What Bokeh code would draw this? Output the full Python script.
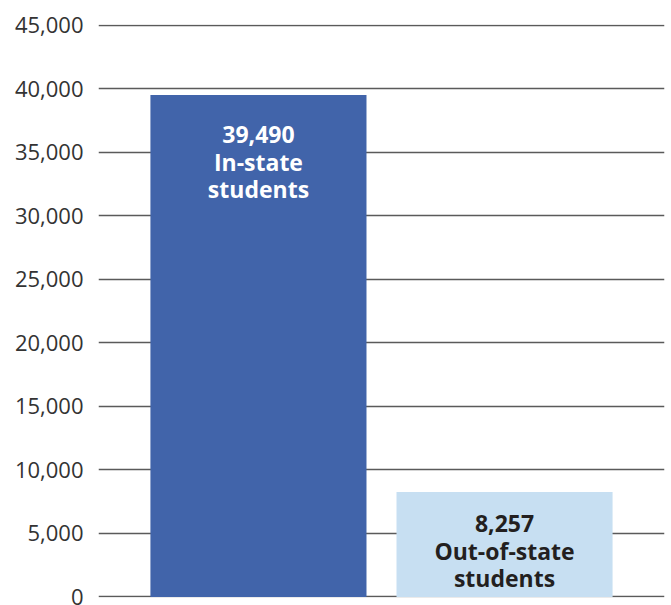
from bokeh.plotting import figure
from bokeh.models import ColumnDataSource, FactorRange, FixedTicker, NumeralTickFormatter, CDSView, IndexFilter
from bokeh.core.properties import value
from bokeh.embed import file_html
from bokeh.resources import INLINE

categories = ["In-state", "Out-of-state"]
students = [39490, 8257]
labels = ["39,490\nIn-state\nstudents", "8,257\nOut-of-state\nstudents"]
colors = ["#4164AA", "#C7DFF2"]
text_colors = ["#FFFFFF", "#231F20"]
y_ticks = [0, 5000, 10000, 15000, 20000, 25000, 30000, 35000, 40000, 45000]

src = ColumnDataSource(dict(cat=categories, val=students, lab=labels,
                            col=colors, tcol=text_colors))

p = figure(width=668, height=605, output_backend="svg", toolbar_location=None,
           x_range=FactorRange(factors=categories, range_padding=0.150,
                               range_padding_units="absolute"),
           y_range=(-40, 45040),
           min_border_top=24, min_border_bottom=8, min_border_right=4,
           min_border_left=98)
p.outline_line_color = None
p.xgrid.grid_line_color = None
p.ygrid.grid_line_color = "#5a5a5a"
p.ygrid.grid_line_width = 1.4
p.ygrid.ticker = FixedTicker(ticks=y_ticks)
p.xaxis.visible = False

ya = p.yaxis[0]
ya.ticker = FixedTicker(ticks=y_ticks)
ya.formatter = NumeralTickFormatter(format="0,0")
ya.axis_line_color = None
ya.major_tick_line_color = None
ya.minor_tick_line_color = None
ya.major_label_standoff = 9
ya.major_label_text_font = "Open Sans"
ya.major_label_text_font_size = "22px"
ya.major_label_text_color = "#333333"

p.vbar(x="cat", top="val", width=0.878, source=src, fill_color="col",
       line_color=None)

for idx, off in ((0, 23), (1, 15)):
    p.text(x="cat", y="val", text="lab", source=src, view=CDSView(filter=IndexFilter([idx])),
           text_color="tcol", text_font=value("Open Sans"), text_font_style="bold",
           text_font_size="23px", text_align="center", text_baseline="top",
           text_line_height=0.86, y_offset=off)

open("out.html", "w").write(file_html(p, INLINE))
